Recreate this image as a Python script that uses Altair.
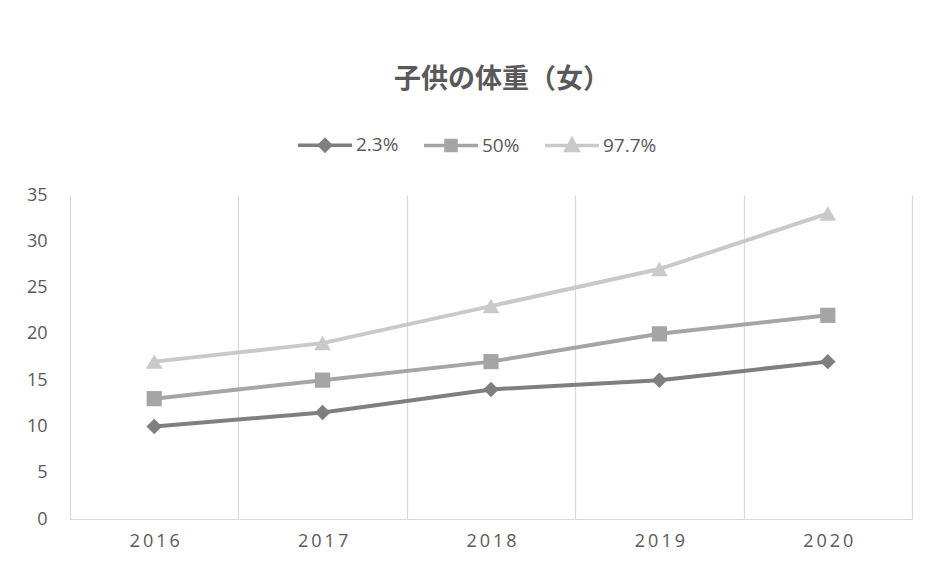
import altair as alt
import pandas as pd

years = ["2016", "2017", "2018", "2019", "2020"]
series_names = ["2.3%", "50%", "97.7%"]
s_low = [10, 11.5, 14, 15, 17]
s_mid = [13, 15, 17, 20, 22]
s_high = [17, 19, 23, 27, 33]
colors = ["#7f7f7f", "#a5a5a5", "#c9c9c9"]
shapes = ["diamond", "square", "triangle-up"]
marker_sizes = [240, 230, 280]

rows = []
for name, vals in zip(series_names, [s_low, s_mid, s_high]):
    for y, v in zip(years, vals):
        rows.append({"year": y, "series": name, "value": v})
df = pd.DataFrame(rows)

legend_path = (
    "datum.value == '2.3%' ? 'M-2.7,0H2.7M0,-0.55L0.55,0L0,0.55L-0.55,0Z' : "
    "datum.value == '50%' ? 'M-2.7,0H2.7M-0.5,-0.5H0.5V0.5H-0.5Z' : "
    "'M-2.7,0H2.7M0,-0.6L0.6,0.5H-0.6Z'"
)

FONT = "Open Sans"
TXT = "#595959"

x_enc = alt.X(
    "year:O",
    sort=years,
    scale=alt.Scale(type="band", paddingInner=0, paddingOuter=0),
    axis=alt.Axis(
        title=None,
        labelAngle=0,
        tickBand="extent",
        grid=True,
        gridColor="#d9d9d9",
        gridWidth=1.2,
        domainColor="#d9d9d9",
        domainWidth=1.2,
        ticks=False,
        labelFont=FONT,
        labelFontSize=18,
        labelColor=TXT,
        labelPadding=13,
        labelExpr="join(split(datum.label, ''), '\u2009')",
    ),
)
y_enc = alt.Y(
    "value:Q",
    scale=alt.Scale(domain=[0, 35], nice=False),
    axis=alt.Axis(
        title=None,
        values=[0, 5, 10, 15, 20, 25, 30, 35],
        grid=False,
        domain=False,
        ticks=False,
        labelFont=FONT,
        labelFontSize=18,
        labelColor=TXT,
        labelPadding=23,
    ),
)
color_enc = alt.Color(
    "series:N",
    sort=series_names,
    scale=alt.Scale(domain=series_names, range=colors),
    legend=alt.Legend(
        title=None,
        orient="none",
        direction="horizontal",
        legendX=243,
        legendY=-62,
        symbolType={"expr": legend_path},
        symbolSize=400,
        symbolStrokeWidth=3.5,
        symbolFillColor={"expr": "scale('color', datum.value)"},
        symbolStrokeColor={"expr": "scale('color', datum.value)"},
        symbolOpacity=1,
        labelOffset=19,
        columnPadding=18,
        labelFont=FONT,
        labelFontSize=19,
        labelColor=TXT,
        padding=0,
    ),
)

lines = alt.Chart(df).mark_line(strokeWidth=4).encode(
    x=x_enc, y=y_enc, color=color_enc, detail="series:N"
)
point_layers = [
    alt.Chart(df)
    .transform_filter(alt.datum.series == name)
    .mark_point(filled=True, size=sz, opacity=1, shape=shp)
    .encode(x=x_enc, y=y_enc, color=color_enc)
    for name, shp, sz in zip(series_names, shapes, marker_sizes)
]

chart = (
    alt.layer(lines, *point_layers)
    .properties(
        width=842,
        height=324,
        autosize=alt.AutoSizeParams(type="none"),
        padding={"left": 62, "top": 187, "right": 9, "bottom": 37},
        title=alt.TitleParams(
            "子供の体重（女）",
            font="Noto Sans CJK JP",
            fontSize=27,
            fontWeight="bold",
            color=TXT,
            anchor="middle",
            offset=39,
            dx=11,
        ),
        background="white",
    )
    .configure_view(stroke=None)
)

chart.save("out.html", embed_options={"renderer": "svg", "actions": False})
